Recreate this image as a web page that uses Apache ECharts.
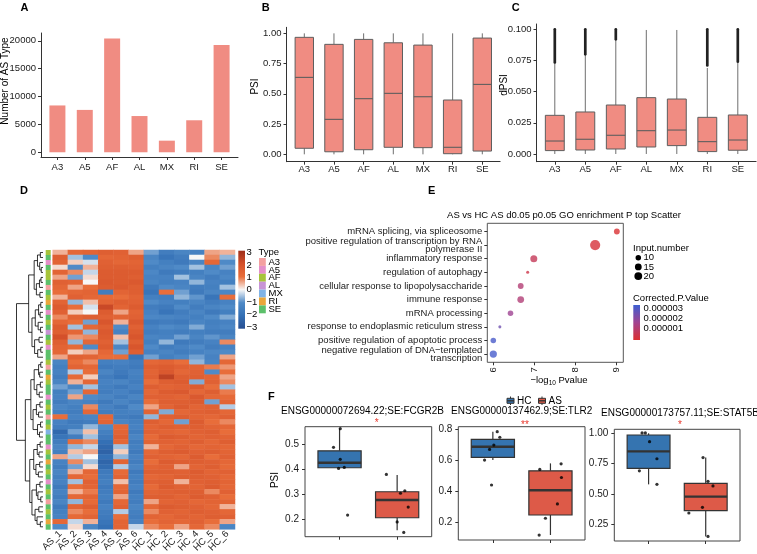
<!DOCTYPE html>
<html><head><meta charset="utf-8">
<script src="https://cdn.jsdelivr.net/npm/echarts@6/dist/echarts.min.js"></script>
<style>html,body{margin:0;padding:0;background:#fff}#c{width:757px;height:554px}</style>
</head><body><div id="c"></div>
<script>
// ---------- Panel A ----------
const asTypes = ['A3','A5','AF','AL','MX','RI','SE'];
const asTypeCounts = [8400, 7600, 20430, 6500, 2080, 5740, 19230];
// ---------- Panel B (PSI) : [min, Q1, median, Q3, max] ----------
const psiBox = [
  [0.0, 0.050, 0.636, 0.967, 1.0],
  [0.0, 0.021, 0.289, 0.909, 1.0],
  [0.0, 0.038, 0.460, 0.950, 1.0],
  [0.0, 0.058, 0.504, 0.922, 1.0],
  [0.0, 0.055, 0.476, 0.903, 1.0],
  [0.0, 0.005, 0.058, 0.449, 1.0],
  [0.0, 0.027, 0.578, 0.961, 1.0]
];
// ---------- Panel C (dPSI) ----------
const dpsiBox = [
  [0.0, 0.0027, 0.0104, 0.0310, 0.0735],
  [0.0, 0.0032, 0.0118, 0.0337, 0.0800],
  [0.0, 0.0040, 0.0150, 0.0393, 0.0920],
  [0.0, 0.0056, 0.0187, 0.0452, 0.0995],
  [0.0, 0.0067, 0.0192, 0.0441, 0.0995],
  [0.0, 0.0019, 0.0099, 0.0294, 0.0690],
  [0.0, 0.0030, 0.0112, 0.0313, 0.0735]
];
const dpsiOutliers = [[0.0735,0.1],[0.080,0.1],[0.092,0.1],null,null,[0.071,0.1],[0.074,0.1]];
// ---------- Panel D heatmap ----------
const samples = ['AS_1','AS_2','AS_3','AS_4','AS_5','AS_6','HC_1','HC_2','HC_3','HC_4','HC_5','HC_6'];
const heatRows = [
 [0.5,1.2,1.3,1.5,1.4,0.6,-0.8,-1.5,-1.2,-1.3,0.6,0.5],
 [1.5,-0.5,-1.0,1.2,1.3,1.5,-1.2,-1.8,-1.5,0.0,0.8,-0.6],
 [1.3,0.3,-0.2,1.4,1.2,1.3,-1.0,-1.4,-1.6,-1.2,1.2,-1.0],
 [0.2,-1.0,0.5,1.5,1.5,1.4,-1.4,-1.2,-1.0,-0.5,-1.2,-0.8],
 [1.3,0.8,-0.3,1.6,1.6,1.6,-1.1,-1.6,-1.5,-1.4,-1.0,-1.3],
 [0.6,-0.8,0.2,1.6,1.6,1.5,-1.3,-1.3,-0.5,-1.2,-1.5,-1.1],
 [1.4,1.3,0.0,1.7,1.6,1.7,-1.2,-1.4,-1.3,-0.6,-1.3,-1.4],
 [1.2,0.6,1.0,1.6,1.7,1.5,-1.6,-1.0,-1.2,-1.5,-1.4,-0.5],
 [1.0,1.2,1.3,-1.5,1.3,1.5,-1.8,1.0,-0.8,-1.6,-1.2,-1.1],
 [0.5,1.4,1.2,1.1,1.0,1.3,-1.4,-1.5,-0.6,-0.9,-1.8,1.0],
 [1.3,-0.6,0.4,1.3,1.5,1.4,-1.0,-1.3,-1.4,-1.2,-1.5,-1.3],
 [1.6,1.0,-0.2,2.2,1.3,1.6,-1.5,-1.6,-1.0,-1.5,-1.2,-1.0],
 [1.4,0.3,0.0,1.6,0.6,1.3,-1.3,-1.8,-1.5,-1.2,-1.6,-1.4],
 [0.8,1.3,1.5,1.4,1.3,1.4,-1.1,-1.2,-1.3,-1.4,-1.0,-0.7],
 [1.2,1.0,-0.8,1.8,0.5,1.7,-1.6,-1.5,-1.6,-1.2,-1.4,-1.3],
 [1.6,-0.5,1.2,1.5,-1.0,1.4,-1.3,-1.0,-1.2,-0.7,-1.3,-1.1],
 [1.5,1.2,-0.6,1.7,-1.3,1.6,-1.5,-1.4,-1.5,-1.4,-1.5,-1.5],
 [2.0,0.7,0.8,1.6,0.4,1.8,-1.2,-1.3,-0.8,-1.2,-0.9,-1.2],
 [1.5,-0.6,1.2,1.4,-0.5,1.5,-1.4,-0.6,-1.6,-1.5,-1.3,0.8],
 [1.3,1.1,-1.0,1.6,-1.1,1.8,-1.0,-1.5,-1.3,-1.0,-1.5,-1.3],
 [1.2,0.3,0.6,1.2,-0.8,1.5,-1.3,-1.2,-1.5,-1.3,-1.1,-1.0],
 [0.6,1.4,1.3,1.0,1.0,-1.8,-0.8,-1.4,-1.1,-0.8,-1.3,0.6],
 [-1.2,1.0,0.8,-1.4,-1.3,-1.5,1.2,1.3,1.0,-0.6,-1.2,1.2],
 [-1.4,1.3,1.2,-1.6,-1.5,-1.6,1.5,1.6,1.4,1.3,0.9,0.7],
 [-1.3,-0.4,1.0,-1.2,-1.6,-1.3,1.3,1.7,1.2,1.4,-1.0,1.0],
 [-1.5,1.1,0.3,-1.5,-1.8,-1.4,1.4,2.4,1.5,1.5,1.3,0.6],
 [-1.2,0.5,1.2,-1.3,-1.2,-1.5,1.0,1.5,1.6,-0.7,1.4,0.8],
 [-0.8,-1.2,-0.5,-1.4,-1.6,-1.3,1.5,1.3,1.4,1.6,1.0,-0.5],
 [-1.4,-0.8,1.2,-1.5,-1.3,-1.6,1.2,1.6,1.7,1.2,1.5,0.9],
 [-1.3,0.6,-1.0,-1.2,-1.5,-1.2,1.4,1.4,1.3,1.7,1.2,1.1],
 [-1.5,-1.2,-1.3,-1.6,-1.2,-1.5,1.0,1.5,1.5,1.6,-0.8,1.3],
 [-1.2,-1.4,0.8,-1.3,-1.6,-1.0,0.6,1.3,1.6,1.3,1.4,-0.4],
 [-1.4,-1.5,1.2,-1.5,-1.4,-1.3,1.3,-0.7,1.2,1.4,1.5,1.2],
 [1.0,-1.3,-1.2,1.2,-1.5,-1.6,-0.6,1.4,1.5,1.3,1.2,1.4],
 [-1.3,-1.6,-1.5,1.3,-1.2,-1.4,1.5,1.2,-0.8,1.6,1.0,0.8],
 [-1.5,-1.4,-0.6,-1.0,1.2,-1.3,1.3,1.5,1.4,1.5,1.3,1.2],
 [-2.2,-0.8,0.4,-1.4,1.3,-1.5,1.4,1.3,1.2,1.4,1.5,1.0],
 [-1.8,-1.5,-0.5,-1.6,1.5,-1.2,1.1,1.6,1.5,1.3,1.4,1.3],
 [-1.5,1.0,0.8,-2.0,1.2,-1.5,1.3,1.4,1.3,1.5,1.2,1.5],
 [-1.2,-0.6,-0.3,-2.2,-0.5,-1.4,0.5,1.2,1.4,1.2,1.3,1.2],
 [-1.4,0.4,0.6,-2.4,0.3,-1.6,1.2,1.5,1.6,1.4,1.5,1.3],
 [0.6,-0.4,0.0,-2.0,-0.6,-1.3,1.4,1.3,1.2,1.6,1.0,1.4],
 [-1.3,0.8,-0.5,-2.3,1.3,-1.5,1.0,1.6,1.5,1.5,1.4,1.2],
 [-1.5,-0.8,0.2,-2.1,-0.4,-1.2,1.3,1.4,0.6,1.3,1.5,1.1],
 [-1.2,0.5,1.2,-1.6,1.1,-1.6,1.5,1.5,1.4,1.6,1.3,1.4],
 [-1.4,1.2,1.0,-1.5,1.3,-1.4,1.2,1.3,1.5,1.5,1.4,1.2],
 [-1.3,-0.5,1.4,-1.4,0.4,-1.5,1.4,1.5,0.5,1.4,1.5,1.3],
 [-1.6,1.0,1.3,-1.6,1.2,-1.3,1.1,1.6,1.4,1.3,1.6,1.2],
 [-1.3,0.5,0.9,-1.5,1.3,-1.6,1.3,1.4,1.5,1.5,0.8,1.4],
 [-1.5,1.2,1.3,-1.4,0.6,-1.4,1.5,1.5,1.3,1.6,1.4,1.0],
 [-1.2,-0.6,1.1,-1.6,1.2,-1.5,0.6,1.3,1.4,1.2,1.3,1.3],
 [-1.6,1.3,1.5,-1.3,1.4,-1.2,1.2,1.6,1.5,1.4,1.2,0.5],
 [-1.4,0.8,1.0,-1.5,-0.4,-1.4,0.8,1.4,1.3,1.5,1.4,1.2],
 [-1.3,1.1,1.3,-1.6,1.0,-1.5,1.3,1.2,1.4,1.3,1.5,1.4],
 [1.2,-0.3,0.5,-1.8,1.3,-1.3,1.0,1.3,1.2,1.4,1.0,0.6],
 [-1.0,0.2,-1.2,-2.0,1.3,-0.3,0.8,1.0,0.6,1.2,0.8,-1.2]
];
const rowTypes = [
 'AF','SE','A5','SE','AF','AF','SE','A3','SE','AF','RI','SE','A5','SE',
 'AF','SE','AL','SE','AF','A5','SE','SE','AF','A3','SE','RI','AF','SE',
 'SE','A5','SE','AF','SE','A3','SE','AF','MX','SE','SE','A5','AF','SE',
 'RI','SE','AF','SE','A5','SE','AF','SE','A3','SE','AF','SE','RI','SE'
];
// dendrogram: [height, left, right], leaves = row index
const dendroTree = [12,
  [6.5,
    [4, [2.5, [1.2,0,1], [1.5,2,[0.8,3,4]]], [3, [1.6,[0.9,5,6],7], [1.4,8,9]]],
    [5, [3.5, [2,[1,10,11],[1.3,12,13]], [2.2,14,[1.1,15,16]]], [3.8,[1.8,17,18],[2.4,[1,19,20],21]]]
  ],
  [8,
    [5.5, [4,[2,[1,22,23],[1.5,24,25]],[2.8,[1.2,26,27],[1.7,28,29]]], [4.5,[3,[1.4,30,31],[2,32,33]],[2.5,[1.1,34,35],[1.6,36,37]]]],
    [6, [4.2,[2.6,[1.3,38,39],[1.8,40,41]],[3.2,[1.5,42,43],[2.1,44,45]]], [5,[3,[1.4,46,47],[2.3,48,[1,49,50]]],[3.6,[1.9,51,52],[2.7,53,[1.2,54,55]]]]]
  ]
];
const heatLegendTicks = [3,2,1,0,-1,-2,-3];
// ---------- Panel E ----------
const goTerms = [
 'mRNA splicing, via spliceosome',
 'positive regulation of transcription by RNA\npolymerase II',
 'inflammatory response',
 'regulation of autophagy',
 'cellular response to lipopolysaccharide',
 'immune response',
 'mRNA processing',
 'response to endoplasmic reticulum stress',
 'positive regulation of apoptotic process',
 'negative regulation of DNA\u2212templated\ntranscription'
];
const goLogP = [9.02, 8.49, 6.99, 6.84, 6.67, 6.67, 6.42, 6.16, 6.0, 6.0];
const goInput = [11, 34, 16, 3, 11, 15, 10, 3, 10, 17];
const goPadj = [2.5e-7, 3.5e-7, 8.5e-7, 6e-7, 1.3e-6, 1.35e-6, 1.8e-6, 2.5e-6, 3.1e-6, 3.15e-6];
const eTicks = [6,7,8,9];
const sizeLegend = [10,15,20];
const padjLegend = ['0.000003','0.000002','0.000001'];
// ---------- Panel F ----------
const groups = ['HC','AS'];
const fTitles = ['ENSG00000072694.22;SE:FCGR2B','ENSG00000137462.9;SE:TLR2','ENSG00000173757.11;SE:STAT5B'];
const fStars = ['*','**','*'];
const fBoxHC = [[0.404,0.4056,0.4255,0.473,0.5625],[0.600,0.618,0.686,0.734,0.783],[0.579,0.710,0.851,0.986,1.0]];
const fBoxAS = [[0.157,0.2065,0.277,0.310,0.3765],[0.118,0.247,0.406,0.531,0.579],[0.150,0.362,0.478,0.587,0.800]];
const fPsiHC = [[0.561,0.487,0.439,0.403,0.407,0.217],[0.783,0.747,0.697,0.669,0.600,0.440],[1.003,1.003,0.931,0.790,0.691,0.579]];
const fPsiAS = [[0.379,0.304,0.314,0.249,0.190,0.148],[0.576,0.540,0.488,0.318,0.226,0.118],[0.800,0.604,0.566,0.390,0.343,0.150]];
const fJitHC = [[0.012,-0.105,0.012,-0.017,0.082,0.14],[0.076,0.121,0.017,-0.057,-0.144,-0.023],[-0.114,-0.057,0.017,0.146,-0.161,0.146]];
const fJitAS = [[-0.187,0.058,0.133,0.192,0,0.115],[0.185,-0.185,0.191,0.121,-0.087,-0.196],[-0.047,0.04,0.127,-0.057,-0.295,0.04]];
const fYTicks = [[0.2,0.3,0.4,0.5],[0.2,0.4,0.6,0.8],[0.25,0.5,0.75,1.0]];

// ================= styling / layout =================
const FONT = '"Liberation Sans", Arial, Helvetica, sans-serif';
const TXT = '#1a1a1a';
const SALMON = '#f08c82';
const typeColors = {A3:'#f4a0a0',A5:'#e58fc9',AF:'#a6c43a',AL:'#c894d6',MX:'#80b3e6',RI:'#eaa63a',SE:'#5cc06a'};
const heatColors = ['#274f91','#3470b5','#4f8ac7','#f7f7f7','#e86d3a','#d4502a','#9e2f1a'];
const grpFill = ['#3574b0','#dd5a48'];

// E panel: value range 0.4..10.6 over the frame; label grid holds the 10 category bands
const E_TOP = 223.3, E_H = 139, E_PX = E_H / 10.2;
const grids = [
  {left:41, top:33, width:197, height:124},            // 0 A
  {left:286.5, top:27.3, width:213.6, height:134.4},   // 1 B
  {left:536.5, top:24, width:219.6, height:137.7},     // 2 C
  {left:52.7, top:250, width:182.3, height:279.3},     // 3 D heatmap
  {left:45.7, top:250, width:5, height:279.3},         // 4 D annotation
  {left:16.5, top:250, width:26.5, height:279.3},      // 5 D dendrogram
  {left:487.3, top:E_TOP, width:136, height:E_H, show:true, borderColor:'#555', borderWidth:1}, // 6 E
  {left:305, top:426.7, width:126.7, height:110, show:true, borderColor:'#444', borderWidth:1},   // 7 F1
  {left:458.3, top:426.7, width:126.7, height:113.3, show:true, borderColor:'#444', borderWidth:1}, // 8 F2
  {left:614.3, top:429.3, width:125.7, height:111.7, show:true, borderColor:'#444', borderWidth:1}, // 9 F3
  {left:487.3, top:E_TOP + 0.1*E_PX, width:136, height:10*E_PX}  // 10 E term labels
].map(g => Object.assign({backgroundColor:'transparent', outerBoundsMode:'none', containLabel:false}, g));

function vAxis(o) {
  return {
    type:'value', gridIndex:o.grid, min:o.min, max:o.max, inverse:!!o.inverse,
    splitLine:{show:false},
    axisLine:{show:o.line !== false, onZero:false, lineStyle:{color:'#333', width:1}},
    axisTick:{show:!!o.ticks, length:3, customValues:o.ticks, lineStyle:{color:'#333', width:1}},
    axisLabel:{show:!!o.labels, customValues:o.ticks, formatter:o.fmt, margin:(o.margin==null?5:o.margin),
      fontSize:o.fs || 9.5, color:TXT, fontFamily:FONT, rotate:o.rotate || 0, interval:0,
      showMinLabel:true, showMaxLabel:true, hideOverlap:false},
  };
}
const catIdx = v => asTypes[Math.round(v) - 1];
const xAxes = [
  vAxis({grid:0, min:0.4, max:7.6, ticks:[1,2,3,4,5,6,7], labels:true, fmt:catIdx, margin:5}),
  vAxis({grid:1, min:0.4, max:7.6, ticks:[1,2,3,4,5,6,7], labels:true, fmt:catIdx, margin:3}),
  vAxis({grid:2, min:0.4, max:7.6, ticks:[1,2,3,4,5,6,7], labels:true, fmt:catIdx, margin:3}),
  {type:'category', gridIndex:3, data:samples, axisLine:{show:false}, axisTick:{show:false},
   axisLabel:{rotate:45, interval:0, margin:3, fontSize:9.5, color:TXT, fontFamily:FONT}},
  {type:'category', gridIndex:4, data:['Type'], show:false},
  {type:'value', gridIndex:5, min:0, max:12, inverse:true, show:false},
  vAxis({grid:6, min:5.853, max:9.178, ticks:eTicks, labels:true, fmt:v=>String(v), rotate:90, margin:5, line:false}),
  vAxis({grid:7, min:0.4, max:2.6, ticks:[1,2], labels:false, line:false}),
  vAxis({grid:8, min:0.4, max:2.6, ticks:[1,2], labels:false, line:false}),
  vAxis({grid:9, min:0.4, max:2.6, ticks:[1,2], labels:false, line:false}),
  {type:'value', gridIndex:10, show:false}
];
const yAxes = [
  vAxis({grid:0, min:-850, max:21400, ticks:[0,5000,10000,15000,20000], labels:true, fmt:v=>String(v)}),
  vAxis({grid:1, min:-0.061, max:1.05, ticks:[0,0.25,0.5,0.75,1], labels:true, fmt:v=>v.toFixed(2)}),
  vAxis({grid:2, min:-0.0062, max:0.1043, ticks:[0,0.025,0.05,0.075,0.1], labels:true, fmt:v=>v.toFixed(3)}),
  {type:'category', gridIndex:3, data:heatRows.map((r,i)=>'r'+i), inverse:true, show:false},
  {type:'category', gridIndex:4, data:heatRows.map((r,i)=>'r'+i), inverse:true, show:false},
  {type:'value', gridIndex:5, min:-0.5, max:heatRows.length-0.5, inverse:true, show:false},
  vAxis({grid:6, min:0.4, max:10.6, inverse:true, ticks:[1,2,3,4,5,6,7,8,9,10], labels:false, line:false}),
  vAxis({grid:7, min:0.131, max:0.569, ticks:fYTicks[0], labels:true, fmt:v=>String(v), line:false, fs:10, margin:6}),
  vAxis({grid:8, min:0.086, max:0.815, ticks:fYTicks[1], labels:true, fmt:v=>String(v), line:false, fs:10, margin:6}),
  vAxis({grid:9, min:0.112, max:1.033, ticks:fYTicks[2], labels:true, fmt:v=>v.toFixed(2), line:false, fs:10, margin:6}),
  {type:'category', gridIndex:10, data:goTerms, inverse:true, axisLine:{show:false}, axisTick:{show:false},
   axisLabel:{interval:0, margin:5, fontSize:9.5, lineHeight:8, color:TXT, fontFamily:FONT, align:'right'}}
];

function boxRender(widthUnits, fillFn, stroke, lw, medW, whiskerColor) {
  return function(params, api) {
    const x = api.value(0);
    const pMin = api.coord([x, api.value(1)]);
    const pQ1 = api.coord([x, api.value(2)]);
    const pMed = api.coord([x, api.value(3)]);
    const pQ3 = api.coord([x, api.value(4)]);
    const pMax = api.coord([x, api.value(5)]);
    const half = api.size([widthUnits, 0])[0] / 2;
    const cx = pMed[0];
    return {type:'group', children:[
      {type:'line', shape:{x1:cx, y1:pQ3[1], x2:cx, y2:pMax[1]}, style:{stroke:whiskerColor, lineWidth:lw}},
      {type:'line', shape:{x1:cx, y1:pQ1[1], x2:cx, y2:pMin[1]}, style:{stroke:whiskerColor, lineWidth:lw}},
      {type:'rect', shape:{x:cx-half, y:pQ3[1], width:2*half, height:pQ1[1]-pQ3[1]},
        style:{fill:fillFn(params.dataIndex), stroke:stroke, lineWidth:lw}},
      {type:'line', shape:{x1:cx-half, y1:pMed[1], x2:cx+half, y2:pMed[1]}, style:{stroke:stroke, lineWidth:medW}}
    ]};
  };
}

// dendrogram segments from the tree
const dendroSegs = [];
(function walk(node) {
  if (typeof node === 'number') return {y:node, h:0};
  const a = walk(node[1]), b = walk(node[2]);
  dendroSegs.push([a.h, a.y, b.h, b.y, node[0]]);
  return {y:(a.y + b.y) / 2, h:node[0]};
})(dendroTree);

const heatData = [];
heatRows.forEach((row, i) => row.forEach((v, j) => heatData.push([j, i, v])));

const goSize = n => 1.75 * Math.sqrt(n);

const series = [
  {type:'bar', xAxisIndex:0, yAxisIndex:0, barWidth:16, itemStyle:{color:SALMON},
   data:asTypeCounts.map((v,i)=>[i+1, v])},
  {type:'custom', xAxisIndex:1, yAxisIndex:1, renderItem:boxRender(0.62, ()=>SALMON, '#5e5e5e', 1, 1.1, '#6e6e6e'),
   data:psiBox.map((b,i)=>[i+1].concat(b))},
  {type:'custom', xAxisIndex:2, yAxisIndex:2, renderItem:boxRender(0.62, ()=>SALMON, '#5e5e5e', 1, 1.1, '#6e6e6e'),
   data:dpsiBox.map((b,i)=>[i+1].concat(b))},
  {type:'custom', xAxisIndex:2, yAxisIndex:2,
   renderItem:(p, api) => {
     const a = api.coord([api.value(0), api.value(1)]), b = api.coord([api.value(0), api.value(2)]);
     return {type:'line', shape:{x1:a[0], y1:a[1], x2:b[0], y2:b[1]}, style:{stroke:'#222', lineWidth:2.7, lineCap:'round'}};
   },
   data:dpsiOutliers.map((o,i)=>o ? [i+1, o[0], o[1]] : null).filter(Boolean)},
  {type:'heatmap', xAxisIndex:3, yAxisIndex:3, data:heatData, itemStyle:{borderWidth:0}, progressive:0},
  {type:'custom', xAxisIndex:4, yAxisIndex:4,
   renderItem:(p, api) => {
     const c = api.coord([0, api.value(1)]);
     const s = api.size([1, 1]);
     return {type:'rect', shape:{x:c[0]-s[0]/2, y:c[1]-s[1]/2, width:s[0], height:s[1]+0.4},
       style:{fill:typeColors[asTypes[api.value(2)]]}};
   },
   data:rowTypes.map((t,i)=>[0, i, asTypes.indexOf(t)])},
  {type:'custom', xAxisIndex:5, yAxisIndex:5,
   renderItem:(p, api) => {
     const a = api.coord([api.value(0), api.value(1)]);
     const b = api.coord([api.value(4), api.value(1)]);
     const c = api.coord([api.value(4), api.value(3)]);
     const d = api.coord([api.value(2), api.value(3)]);
     return {type:'polyline', shape:{points:[a,b,c,d]}, style:{stroke:'#000', lineWidth:0.8, fill:'none'}};
   },
   data:dendroSegs},
  {type:'scatter', xAxisIndex:6, yAxisIndex:6, symbol:'circle',
   symbolSize:v => goSize(v[3]),
   data:goLogP.map((x,i)=>[x, i+1, goPadj[i], goInput[i]])}
];
for (let k = 0; k < 3; k++) {
  series.push({type:'custom', xAxisIndex:7+k, yAxisIndex:7+k,
    renderItem:boxRender(0.75, i=>grpFill[i], '#333', 1.2, 2.4, '#333'),
    data:[[1].concat(fBoxHC[k]), [2].concat(fBoxAS[k])]});
}
for (let k = 0; k < 3; k++) {
  const pts = fPsiHC[k].map((v,i)=>[1 + fJitHC[k][i], v]).concat(fPsiAS[k].map((v,i)=>[2 + fJitAS[k][i], v]));
  series.push({type:'scatter', xAxisIndex:7+k, yAxisIndex:7+k, symbol:'circle', symbolSize:3.2,
    itemStyle:{color:'#000'}, data:pts});
}

// ---------- graphic texts & legends ----------
const T = (text, x, y, o) => Object.assign({type:'text', x:x, y:y, silent:true,
  style:Object.assign({text:text, fill:'#000', font:'9.5px ' + FONT, align:'left', verticalAlign:'middle'}, o || {})});
const bold = s => 'bold ' + s + 'px ' + FONT;
const g = [];
// panel letters
[['A',20.5,7.7],['B',261.7,7.7],['C',511.7,7.7],['D',20,190.5],['E',428,190.5],['F',268,397]].forEach(l =>
  g.push(T(l[0], l[1], l[2], {font:bold(11)})));
// axis titles
g.push(Object.assign(T('Number of AS Type', 5.5, 81, {align:'center', font:'10px ' + FONT}), {rotation:Math.PI/2}));
g.push(Object.assign(T('PSI', 255.5, 86.5, {align:'center', font:'10px ' + FONT}), {rotation:Math.PI/2}));
g.push(Object.assign(T('dPSI', 504, 85, {align:'center', font:'10px ' + FONT}), {rotation:Math.PI/2}));
g.push(Object.assign(T('PSI', 275.5, 480, {align:'center', font:'10px ' + FONT}), {rotation:Math.PI/2}));
// D colour bar
g.push({type:'rect', silent:true, shape:{x:238.3, y:250.7, width:6.7, height:78},
  style:{fill:{type:'linear', x:0, y:0, x2:0, y2:1, colorStops:heatColors.slice().reverse().map((c,i)=>({offset:i/6, color:c}))}}});
heatLegendTicks.forEach((t,i) => g.push(T(t < 0 ? '\u2212' + Math.abs(t) : String(t), 246.5, 252.5 + i*12.4, {font:'9.5px ' + FONT})));
// D type legend
g.push(T('Type', 258.5, 252.5, {font:'9.5px ' + FONT}));
asTypes.forEach((t,i) => {
  g.push({type:'rect', silent:true, shape:{x:259, y:258 + i*7.9, width:6.8, height:7.9}, style:{fill:typeColors[t]}});
  g.push(T(t, 268.5, 262 + i*7.9, {font:'9.5px ' + FONT}));
});
// E title and x title
g.push(T('AS vs HC AS d0.05 p0.05 GO enrichment P top Scatter', 564, 215, {align:'center', font:'9.5px ' + FONT}));
g.push({type:'text', x:559, y:380, silent:true, style:{text:'{a|\u2212log}{s|10}{a| Pvalue}', align:'center', verticalAlign:'middle',
  rich:{a:{fontSize:9.5, fontFamily:FONT, fill:'#000', lineHeight:14, verticalAlign:'middle'},
        s:{fontSize:6.5, fontFamily:FONT, fill:'#000', lineHeight:14, verticalAlign:'bottom'}}}});
// E size legend
g.push(T('Input.number', 633, 248, {font:'9.5px ' + FONT}));
sizeLegend.forEach((n,i) => {
  const y = 257.7 + i*9.2;
  g.push({type:'circle', silent:true, shape:{cx:638.3, cy:y, r:goSize(n)/2}, style:{fill:'#000'}});
  g.push(T(String(n), 643.5, y, {font:'9.5px ' + FONT}));
});
// E colour legend
g.push(T('Corrected.P.Value', 633, 298, {font:'9.5px ' + FONT}));
g.push({type:'rect', silent:true, shape:{x:633.3, y:305, width:6.7, height:35},
  style:{fill:{type:'linear', x:0, y:0, x2:0, y2:1, colorStops:[{offset:0,color:'#3d5fd2'},{offset:0.5,color:'#a24390'},{offset:1,color:'#dc3030'}]}}});
padjLegend.forEach((t,i) => g.push(T(t, 643.5, 308.3 + i*9.8, {font:'9.5px ' + FONT})));
// F legend
groups.forEach((gname,i) => {
  const x0 = i === 0 ? 507 : 538.5;
  g.push({type:'line', silent:true, shape:{x1:x0+3.5, y1:396.5, x2:x0+3.5, y2:405}, style:{stroke:'#333', lineWidth:1}});
  g.push({type:'rect', silent:true, shape:{x:x0, y:398.3, width:7, height:5}, style:{fill:grpFill[i], stroke:'#333', lineWidth:1}});
  g.push({type:'line', silent:true, shape:{x1:x0, y1:400.8, x2:x0+7, y2:400.8}, style:{stroke:'#333', lineWidth:1.4}});
  g.push(T(gname, x0 + 10, 401, {font:'10px ' + FONT}));
});
// F titles and stars
[[362.5,411.7],[521.7,411.7],[680,413.3]].forEach((p,k) => {
  g.push(T(fTitles[k], p[0], p[1], {align:'center', font:'10px ' + FONT}));
});
[[376.7,423.5],[525,425.5],[680,425.5]].forEach((p,k) => {
  g.push(T(fStars[k], p[0], p[1], {align:'center', font:'10px ' + FONT, fill:'#e8362a'}));
});

const option = {
  animation:false,
  backgroundColor:'#fff',
  textStyle:{fontFamily:FONT},
  grid:grids,
  xAxis:xAxes,
  yAxis:yAxes,
  visualMap:[
    {type:'continuous', show:false, seriesIndex:4, dimension:2, min:-3, max:3, inRange:{color:heatColors}},
    {type:'continuous', show:false, seriesIndex:7, dimension:2, min:2e-7, max:3.3e-6, inRange:{color:['#dc3030','#a24390','#3d5fd2']}}
  ],
  series:series,
  graphic:g
};
const chart = echarts.init(document.getElementById('c'), null, {renderer:'canvas', width:757, height:554});
chart.setOption(option);
</script>
</body></html>
